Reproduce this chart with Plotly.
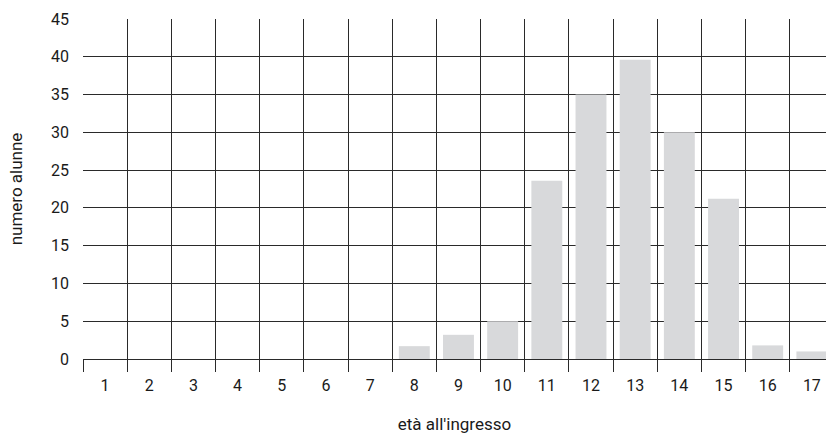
import plotly.graph_objects as go

ages = list(range(1, 18))
age_labels = [str(a) for a in ages]
students = [0, 0, 0, 0, 0, 0, 0, 1.7, 3.2, 5.0, 23.6, 35.0, 39.6, 30.0, 21.2, 1.8, 1.0]
y_ticks = list(range(0, 46, 5))

fig = go.Figure()
fig.add_trace(go.Bar(
    x=ages, y=students, width=0.7,
    marker=dict(color="#d8d9db", line=dict(width=0)),
    hoverinfo="skip",
))

grid_col = "#2a2a2a"
fig.update_layout(
    width=826, height=435,
    margin=dict(l=83, r=0, t=19, b=76, autoexpand=False),
    paper_bgcolor="white", plot_bgcolor="white",
    font=dict(family="Roboto, sans-serif", size=16, color="#1a1a1a"),
    showlegend=False,
    xaxis=dict(
        range=[0.5, 17.32],
        tickvals=ages, ticktext=age_labels,
        ticks="outside", ticklen=12, tickcolor="rgba(0,0,0,0)",
        showgrid=False, zeroline=False, showline=False,
        minor=dict(tickvals=[a - 0.5 for a in ages] + [17.5], showgrid=True,
                   gridcolor=grid_col, gridwidth=1,
                   ticks="outside", ticklen=12, tickcolor=grid_col, tickwidth=1),
        title=dict(text="età all'ingresso", standoff=23, font=dict(size=17)),
        automargin=False,
        fixedrange=True,
    ),
    yaxis=dict(
        range=[0, 45], tickvals=y_ticks,
        showgrid=True, gridcolor=grid_col, gridwidth=1,
        zeroline=True, zerolinecolor=grid_col, zerolinewidth=1,
        showline=False, ticks="", ticklabelstandoff=13,
        title=dict(text="numero alunne", standoff=24, font=dict(size=17)),
        automargin=False,
        fixedrange=True,
    ),
)

fig.write_html(
    "out.html",
    config={"displayModeBar": False, "staticPlot": True},
    post_script="document.body.style.margin='0';document.body.style.overflow='hidden';",
)
